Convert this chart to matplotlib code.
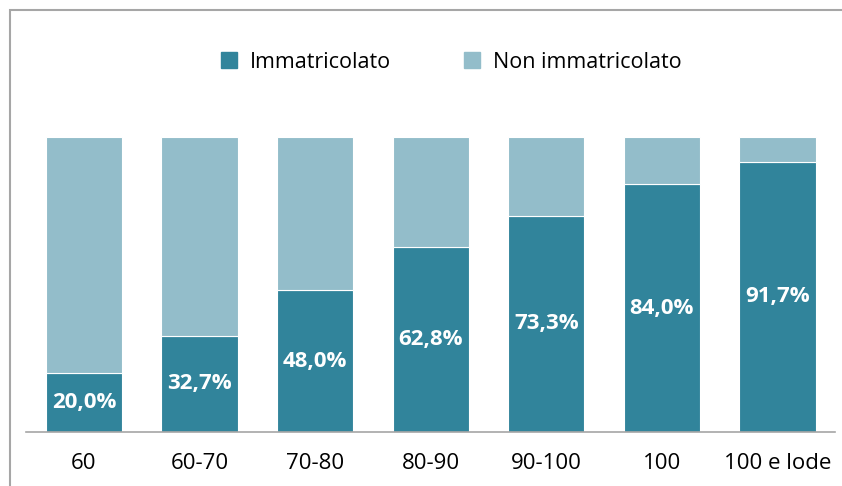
import matplotlib
matplotlib.use("Agg")
import matplotlib.pyplot as plt
from matplotlib.patches import Rectangle, Patch

categorie = ["60", "60-70", "70-80", "80-90", "90-100", "100", "100 e lode"]
immatricolato = [20.0, 32.7, 48.0, 62.8, 73.3, 84.0, 91.7]
non_immatricolato = [100 - v for v in immatricolato]

scuro = "#31849B"
chiaro = "#93BDCA"

plt.rcParams['font.family'] = ['Open Sans', 'DejaVu Sans']

fig = plt.figure(figsize=(8.42, 4.86), dpi=100)
ax = fig.add_axes([0.031, 0.111, 0.961, 0.607])

x = range(len(categorie))
ax.bar(x, immatricolato, width=0.66, color=scuro, edgecolor="white", linewidth=0.8)
ax.bar(x, non_immatricolato, width=0.66, bottom=immatricolato, color=chiaro,
       edgecolor="white", linewidth=0.8)

for i, v in enumerate(immatricolato):
    ax.text(i, v / 2, f"{v:.1f}%".replace(".", ","), ha="center", va="center",
            color="white", fontsize=16, fontweight="bold")

ax.set_xlim(-0.5, len(categorie) - 0.5)
ax.set_ylim(0, 100)
ax.set_yticks([])
ax.set_xticks(list(x))
ax.set_xticklabels(categorie, fontsize=16)
ax.tick_params(axis="x", length=0, pad=15)
for s in ["top", "right", "left"]:
    ax.spines[s].set_visible(False)
ax.spines["bottom"].set_color("#A6A6A6")
ax.spines["bottom"].set_linewidth(1.2)

handles = [Patch(color=scuro, label="Immatricolato"),
           Patch(color=chiaro, label="Non immatricolato")]
fig.legend(handles=handles, loc="center", bbox_to_anchor=(0.536, 0.872), ncol=2,
           frameon=False, fontsize=15.5, handlelength=0.75, handleheight=0.75,
           columnspacing=3.4, handletextpad=0.6)

# bordo grigio (solo sinistra e sopra visibili)
fig.patches.append(Rectangle((9.5 / 842, -0.2), 1.5, 1.2 - 10 / 486,
                             transform=fig.transFigure, fill=False,
                             edgecolor="#A6A6A6", linewidth=1.5, clip_on=False))

fig.savefig("out.png", dpi=100)
